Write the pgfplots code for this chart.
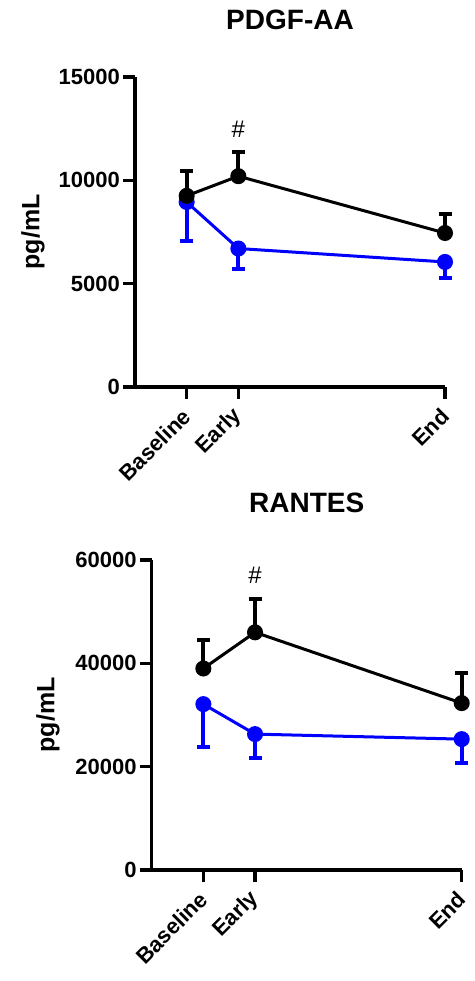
\documentclass[border=0pt]{standalone}
\usepackage{pgfplots}
\pgfplotsset{compat=1.18}
\usepackage{fontspec}
\setmainfont{Liberation Sans}
\definecolor{pblue}{RGB}{0,0,255}
\pgfplotsset{
  myaxis/.style={
    scale only axis, width=310pt, height=310pt,
    axis x line=bottom, axis y line=left,
    axis line style={line width=3.5pt, -},
    xmin=-1, xmax=5,
    xtick={0,1,5}, xticklabels={Baseline,Early,End},
    tick align=outside,
    major tick length=12pt,
    every tick/.style={line width=3.5pt, black},
    /pgf/number format/assume math mode=true,
    /pgf/number format/1000 sep={},
    scaled y ticks=false,
    tick label style={font=\fontsize{22}{22}\selectfont\bfseries},
    xticklabel style={yshift=-13pt, xshift=1pt, rotate=45, anchor=east, inner sep=1pt},
    yticklabel style={inner sep=3pt},
    ylabel={pg/mL},
    ylabel style={font=\fontsize{25}{25}\selectfont\bfseries, anchor=center},
    title style={font=\fontsize{28}{28}\selectfont\bfseries, at={(0.5,1)}, anchor=base, yshift=41pt},
    clip=false,
  },
  blk/.style={black, line width=3pt, mark=*, mark size=6.5pt, mark options={solid},
     error bars/.cd, y dir=plus, y explicit,
     error bar style={line width=4pt, black},
     error mark options={rotate=90, mark size=6.5pt, line width=4pt, black}},
  blu/.style={pblue, line width=3pt, mark=*, mark size=6.5pt, mark options={solid},
     error bars/.cd, y dir=minus, y explicit,
     error bar style={line width=4pt, pblue},
     error mark options={rotate=90, mark size=6.5pt, line width=4pt, pblue}},
}
\begin{document}
\begin{tikzpicture}
\useasboundingbox (0,0) rectangle (474pt,981pt);
\begin{axis}[myaxis, at={(135pt,594pt)}, anchor=south west,
  ymin=0, ymax=15000, ytick={0,5000,10000,15000},
  title={PDGF-AA},
  ylabel style={at={(axis description cs:-0.329,0.5)}}]
\addplot+[blu] coordinates {(0,8950) +- (0,1880) (1,6700) +- (0,1000) (5,6050) +- (0,790)};
\addplot+[blk] coordinates {(0,9250) +- (0,1200) (1,10200) +- (0,1150) (5,7450) +- (0,910)};
\node[font=\fontsize{24}{24}\selectfont] at (axis cs:1,12490) {\#};
\end{axis}
\begin{axis}[myaxis, at={(151.7pt,111pt)}, anchor=south west,
  ymin=0, ymax=60000, ytick={0,20000,40000,60000},
  title={RANTES},
  ylabel style={at={(axis description cs:-0.335,0.5)}}]
\addplot+[blu] coordinates {(0,32100) +- (0,8200) (1,26300) +- (0,4650) (5,25330) +- (0,4530)};
\addplot+[blk] coordinates {(0,39000) +- (0,5600) (1,46000) +- (0,6400) (5,32300) +- (0,5800)};
\node[font=\fontsize{24}{24}\selectfont] at (axis cs:1,56980) {\#};
\end{axis}
\end{tikzpicture}
\end{document}
